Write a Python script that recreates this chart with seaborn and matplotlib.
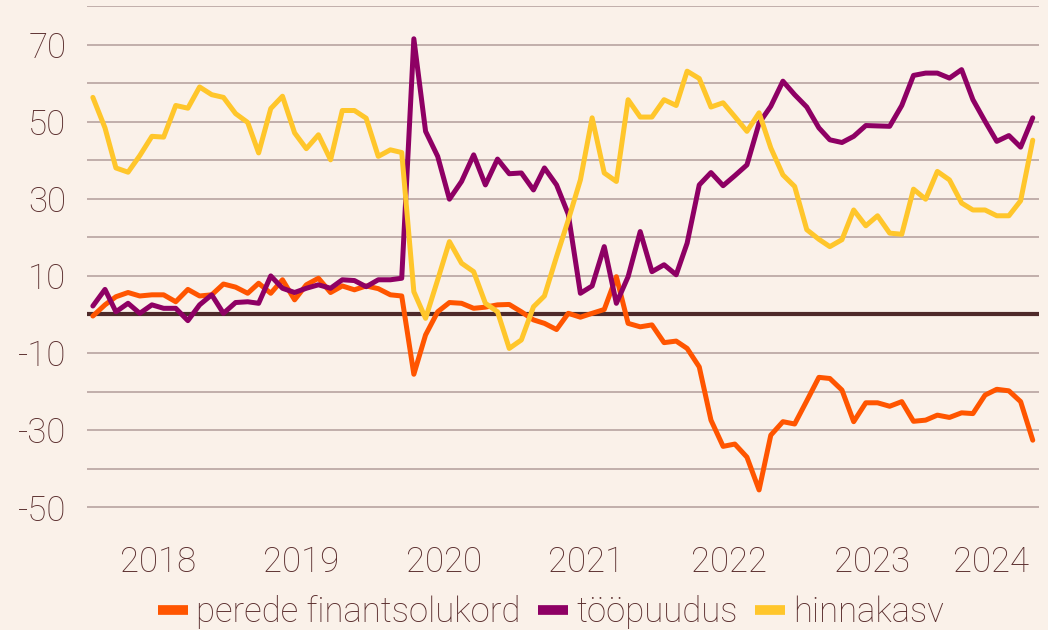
import pandas as pd
import matplotlib.pyplot as plt
import seaborn as sns

# monthly balances, Jan 2018 - Aug 2024
months = pd.date_range("2018-01-01", periods=80, freq="MS")

perede = [-0.4, 2.5, 4.6, 5.7, 4.8, 5.1, 5.1, 3.3, 6.5, 4.8, 5.1, 7.9,
          7.1, 5.5, 8.1, 5.5, 9.0, 3.8, 7.7, 9.4, 5.7, 7.4, 6.4, 7.4,
          6.7, 5.1, 4.8, -15.5, -5.3, 0.7, 3.1, 2.9, 1.6, 1.9, 2.5, 2.6,
          0.7, -1.4, -2.3, -3.9, 0.3, -0.7, 0.3, 1.3, 9.8, -2.3, -3.2, -2.7,
          -7.3, -6.9, -8.8, -13.6, -27.4, -34.2, -33.6, -37.0, -45.5, -31.3, -27.8, -28.4,
          -22.4, -16.3, -16.6, -19.6, -27.8, -22.9, -22.9, -23.8, -22.6, -27.7, -27.4, -26.1,
          -26.7, -25.5, -25.7, -20.9, -19.4, -19.8, -22.6, -32.6]

toopuudus = [2.2, 6.5, 0.7, 2.9, 0.3, 2.5, 1.6, 1.6, -1.6, 2.5, 5.1, 0.3,
             3.1, 3.3, 2.9, 10.0, 6.8, 5.7, 6.8, 7.7, 6.8, 9.0, 8.8, 7.2,
             9.0, 9.0, 9.4, 71.5, 47.5, 41.0, 29.9, 34.5, 41.4, 33.6, 40.3, 36.5,
             36.7, 32.3, 38.0, 33.6, 26.0, 5.5, 7.4, 17.6, 2.9, 9.8, 21.5, 11.1,
             12.9, 10.3, 18.5, 33.6, 36.8, 33.4, 36.0, 38.8, 49.6, 54.0, 60.5, 57.0,
             53.8, 48.4, 45.3, 44.6, 46.2, 49.0, 48.9, 48.8, 54.2, 62.0, 62.6, 62.6,
             61.3, 63.5, 55.7, 50.1, 44.9, 46.4, 43.4, 51.0]

hinnakasv = [56.3, 48.4, 38.0, 36.9, 41.2, 46.2, 46.0, 54.2, 53.5, 59.0, 57.0, 56.3,
             52.1, 49.8, 41.9, 53.4, 56.6, 47.1, 43.0, 46.6, 40.1, 52.9, 52.9, 50.9,
             41.0, 42.7, 42.0, 5.9, -1.0, 9.0, 18.9, 13.3, 11.1, 2.9, 0.7, -8.8,
             -6.6, 2.0, 4.8, 15.0, 24.5, 34.9, 51.0, 36.7, 34.5, 55.7, 51.2, 51.2,
             55.7, 54.2, 63.1, 61.2, 53.8, 54.9, 51.3, 47.5, 52.3, 43.2, 36.2, 33.2,
             22.0, 19.5, 17.6, 19.4, 27.1, 23.0, 25.6, 21.1, 20.8, 32.5, 29.9, 37.1,
             34.9, 28.9, 27.1, 27.1, 25.6, 25.6, 29.5, 45.2]

series_names = ["perede finantsolukord", "tööpuudus", "hinnakasv"]
colors = ["#FF5500", "#8E0064", "#FFC62B"]

df = pd.DataFrame({"kuu": months,
                   series_names[0]: perede,
                   series_names[1]: toopuudus,
                   series_names[2]: hinnakasv})
df = df.melt(id_vars="kuu", var_name="näitaja", value_name="saldo")

bg = "#FAF1E9"
txt = "#5A2D2D"

sns.set_theme(style="white")
plt.rcParams["font.family"] = ["Roboto", "DejaVu Sans"]
plt.rcParams["font.weight"] = "light"
plt.rcParams["axes.unicode_minus"] = False

fig = plt.figure(figsize=(10.48, 6.3), dpi=100, facecolor=bg)
ax = fig.add_axes([87 / 1048, 1 - 515 / 630, 952 / 1048, 509 / 630])
ax.set_facecolor(bg)

sns.lineplot(data=df, x="kuu", y="saldo", hue="näitaja", hue_order=series_names,
             palette=colors, linewidth=3.6, ax=ax, zorder=3)

# y axis: labels on odd tens, grid on every ten
ax.set_ylim(-52, 80)
ax.set_yticks(range(-50, 80, 20))
ax.set_yticks(range(-40, 90, 20), minor=True)
ax.grid(which="both", axis="y", color="#BDAAA6", linewidth=1.3, zorder=1)
ax.grid(which="both", axis="x", visible=False)
ax.axhline(0, color="#4E2A2A", linewidth=3, zorder=2.5)

# year labels centred on each year's months
mid = pd.Series(months).groupby(months.year).mean()
ax.set_xticks(mid.values)
ax.set_xticklabels([str(y) for y in mid.index])
ax.set_xlim(months[0] - pd.Timedelta(days=15), months[-1] + pd.Timedelta(days=16))

ax.tick_params(axis="y", which="both", length=0, pad=15, labelsize=25, colors=txt)
ax.tick_params(axis="x", length=0, pad=22, labelsize=25, colors=txt)
for s in ax.spines.values():
    s.set_visible(False)
ax.set_xlabel("")
ax.set_ylabel("")

handles, labels = ax.get_legend_handles_labels()
ax.get_legend().remove()
leg = fig.legend(handles, labels, loc="center", bbox_to_anchor=(0.526, 1 - 612 / 630),
                 ncol=3, frameon=False, fontsize=25, handlelength=0.85,
                 handletextpad=0.25, columnspacing=0.5)
for h in leg.get_lines():
    h.set_linewidth(7)
    h.set_solid_capstyle("butt")
for t in leg.get_texts():
    t.set_color(txt)

fig.savefig("out.png", dpi=100, facecolor=bg)
